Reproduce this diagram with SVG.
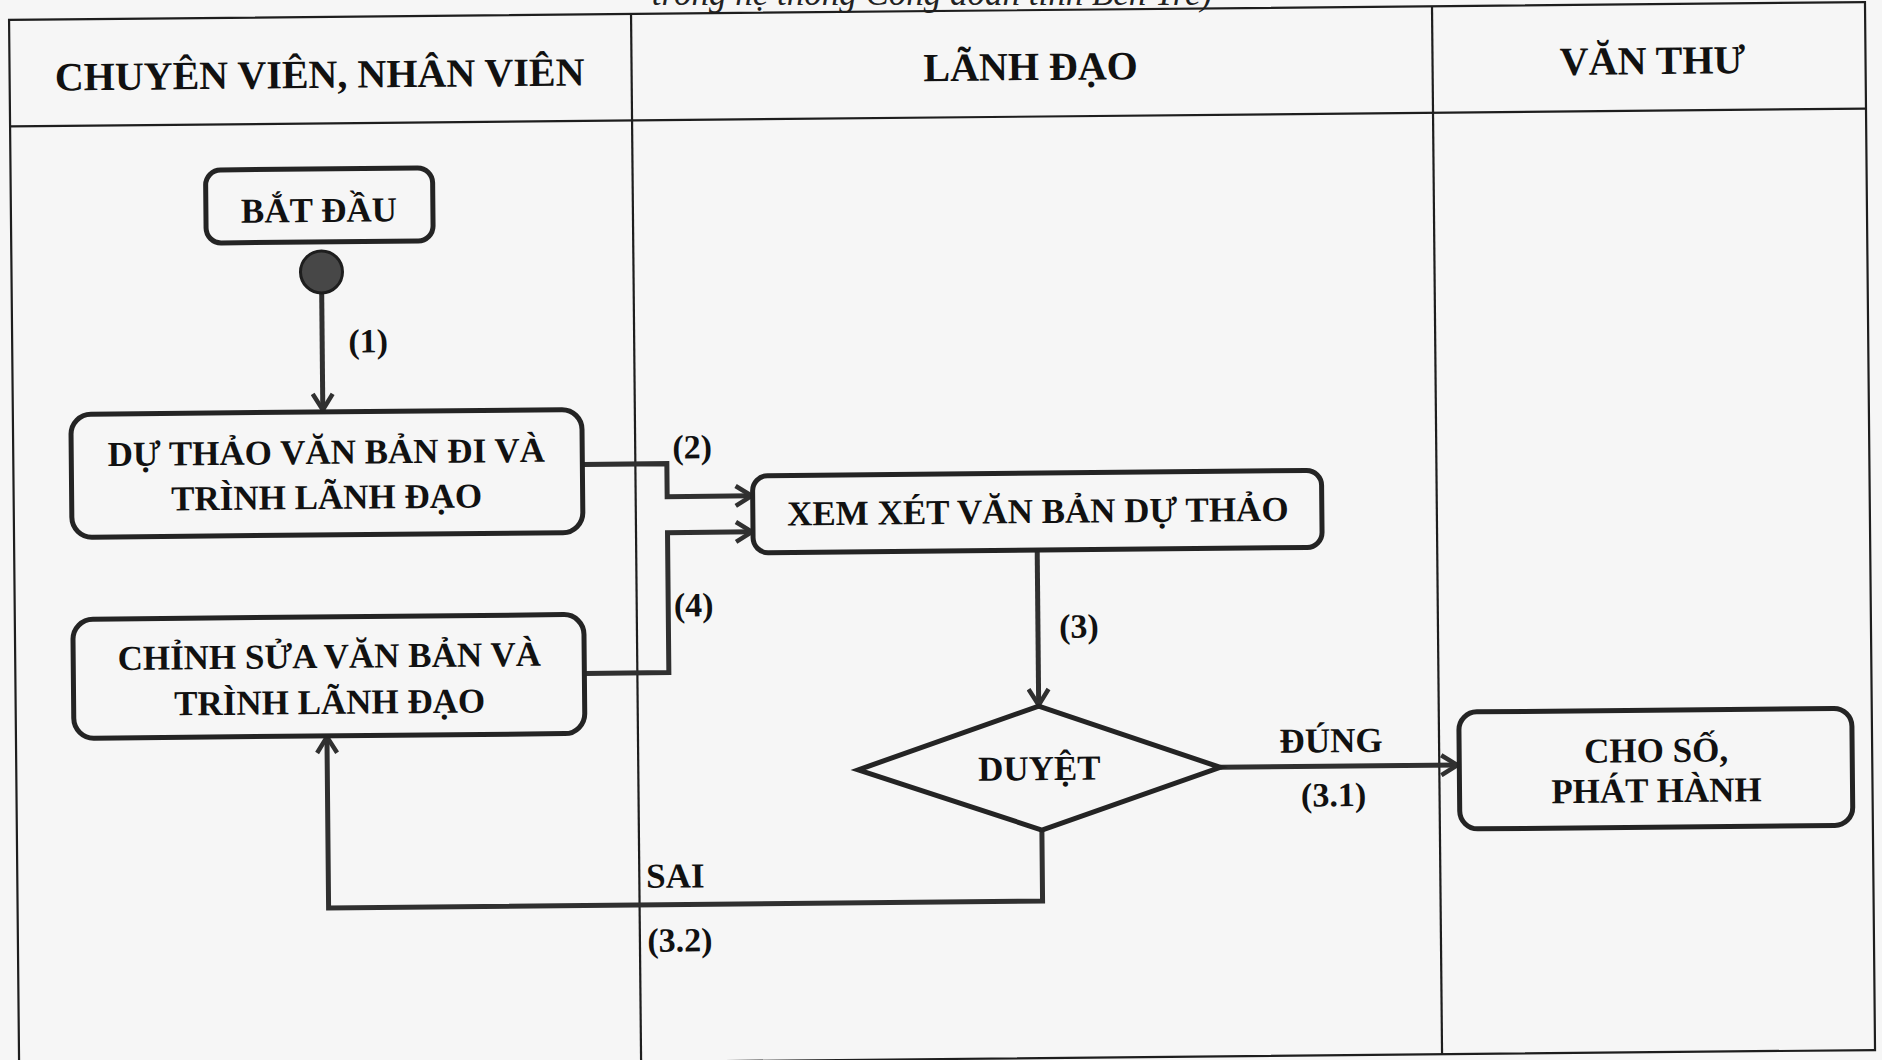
<svg xmlns="http://www.w3.org/2000/svg" width="1882" height="1060" viewBox="0 0 1882 1060">
<style>
.grid{stroke:#1e1e1e;stroke-width:2.2;fill:none}
.box{fill:none;stroke:#242424;stroke-width:5}
.con{fill:none;stroke:#303030;stroke-width:5}
.t{font-family:"Liberation Serif","Times New Roman",serif;font-weight:bold;fill:#111;text-anchor:middle}
.h{font-size:40px}
.n{font-size:35px}
.l{font-size:34px}
</style>
<defs>
<marker id="arr" viewBox="0 0 20 24" refX="18" refY="12" markerWidth="20" markerHeight="24" markerUnits="userSpaceOnUse" orient="auto">
<path d="M2,2 L18,12 L2,22" fill="none" stroke="#303030" stroke-width="4.5"/>
</marker>
</defs>
<rect x="0" y="0" width="1882" height="1060" fill="#f6f6f6"/>
<text x="932" y="5" font-family="Liberation Serif, serif" font-style="italic" font-size="35" fill="#222" text-anchor="middle">trong hệ thống Công đoàn tỉnh Bến Tre)</text>
<g transform="rotate(-0.55 941 530)">
<g id="table">
<rect class="grid" x="14" y="11" width="1856" height="1048"/>
<line class="grid" x1="14" y1="117.5" x2="1870" y2="117.5"/>
<line class="grid" x1="636" y1="11" x2="636" y2="1059"/>
<line class="grid" x1="1437" y1="11" x2="1437" y2="1059"/>
<text class="t h" x="324" y="82">CHUYÊN VIÊN, NHÂN VIÊN</text>
<text class="t h" x="1035" y="81">LÃNH ĐẠO</text>
<text class="t h" x="1657" y="81">VĂN THƯ</text>
</g>
<g id="connectors">
<path class="con" d="M324,287 L324,404" marker-end="url(#arr)"/>
<text class="t l" x="370" y="347">(1)</text>
<path class="con" d="M583,461 L667.5,461 L667.5,494 L752,494" marker-end="url(#arr)"/>
<text class="t l" x="693" y="456">(2)</text>
<path class="con" d="M583,670 L667.5,670 L667.5,530 L752,530" marker-end="url(#arr)"/>
<text class="t l" x="693" y="614">(4)</text>
<path class="con" d="M1037,552 L1037,706" marker-end="url(#arr)"/>
<text class="t l" x="1078" y="639">(3)</text>
<path class="con" d="M1218,770 L1455,770" marker-end="url(#arr)"/>
<text class="t n" x="1329" y="756">ĐÚNG</text>
<text class="t l" x="1331" y="810">(3.1)</text>
<path class="con" d="M1039,831 L1039,902 L325,902 L325,731" marker-end="url(#arr)"/>
<text class="t n" x="672" y="885">SAI</text>
<text class="t l" x="676" y="949">(3.2)</text>
</g>
<g id="start">
<rect class="box" x="209" y="163" width="227" height="73" rx="15"/>
<text class="t n" x="322" y="216">BẮT ĐẦU</text>
</g>
<g id="start-dot">
<circle cx="324" cy="266" r="21" fill="#474747" stroke="#1e1e1e" stroke-width="3"/>
</g>
<g id="draft">
<rect class="box" x="72" y="406" width="511" height="123" rx="20"/>
<text class="t n" x="327" y="458">DỰ THẢO VĂN BẢN ĐI VÀ</text>
<text class="t n" x="327" y="503">TRÌNH LÃNH ĐẠO</text>
</g>
<g id="review">
<rect class="box" x="753" y="474" width="569" height="77" rx="15"/>
<text class="t n" x="1038" y="524">XEM XÉT VĂN BẢN DỰ THẢO</text>
</g>
<g id="edit">
<rect class="box" x="72" y="611" width="511" height="119" rx="20"/>
<text class="t n" x="328" y="662">CHỈNH SỬA VĂN BẢN VÀ</text>
<text class="t n" x="328" y="708">TRÌNH LÃNH ĐẠO</text>
</g>
<g id="approve">
<polygon class="box" points="856,769 1037,707 1218,770 1039,831"/>
<text class="t n" x="1037" y="781">DUYỆT</text>
</g>
<g id="issue">
<rect class="box" x="1457" y="717" width="393" height="117" rx="18"/>
<text class="t n" x="1654" y="769">CHO SỐ,</text>
<text class="t n" x="1654" y="809">PHÁT HÀNH</text>
</g>
</g>
</svg>
